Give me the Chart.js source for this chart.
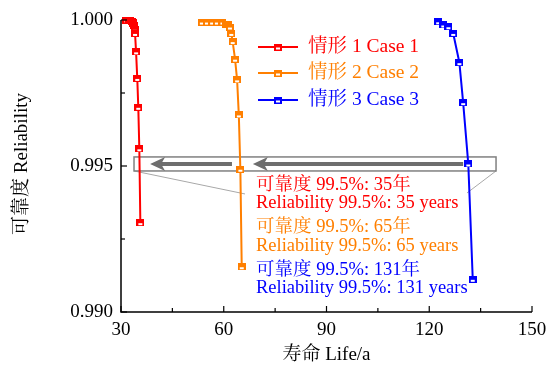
<!DOCTYPE html>
<html><head><meta charset="utf-8">
<script src="https://cdn.jsdelivr.net/npm/chart.js@4/dist/chart.umd.min.js"></script>
<style>html,body{margin:0;padding:0;background:#fff;}</style>
</head><body>
<canvas id="c" width="549" height="369"></canvas>
<script>
// ---- data ----
const seriesNames = ['情形 1 Case 1', '情形 2 Case 2', '情形 3 Case 3'];
const seriesColors = ['#FF0000', '#FF7F00', '#0000FF'];
const case1Life = [31.6, 32.2, 32.7, 33.1, 33.4, 33.6, 33.8, 34.0, 34.1, 34.4, 34.75, 35.05, 35.35, 35.65];
const case1Rel  = [1.0000, 0.99999, 0.99998, 0.99996, 0.99993, 0.99988, 0.99980, 0.99968, 0.99954, 0.99891, 0.99800, 0.99701, 0.99559, 0.99306];
const case2Life = [53.6, 55.1, 56.6, 58.0, 59.6, 60.7, 61.3, 61.8, 62.2, 62.6, 63.3, 63.9, 64.4, 64.85, 65.25];
const case2Rel  = [0.99993, 0.99993, 0.99993, 0.99993, 0.99993, 0.99986, 0.99983, 0.99976, 0.99954, 0.99926, 0.99866, 0.99795, 0.99675, 0.99489, 0.99155];
const case3Life = [122.6, 124.1, 125.6, 127.0, 128.8, 129.9, 131.4, 132.7];
const case3Rel  = [0.99994, 0.99983, 0.99977, 0.99954, 0.99854, 0.99717, 0.99507, 0.99112];
const xTicks = [30, 60, 90, 120, 150];
const xMinorTicks = [45, 75, 105, 135];
const yTicks = [0.990, 0.995, 1.000];
const yMinorTicks = [0.9925, 0.9975];
const xTitle = '寿命 Life/a';
const yTitle = '可靠度 Reliability';
const noteLines = ['可靠度 99.5%: 35年', 'Reliability 99.5%: 35 years',
                   '可靠度 99.5%: 65年', 'Reliability 99.5%: 65 years',
                   '可靠度 99.5%: 131年', 'Reliability 99.5%: 131 years'];
const noteColors = ['#FF0000', '#FF0000', '#FF7F00', '#FF7F00', '#0000FF', '#0000FF'];
// zoom box (data coords): life range, reliability range
const boxLife = [33.8, 139.5];
const boxRel = [0.99483, 0.99531];
// arrows: [tail life, tip life] at reliability level
const arrowLevel = 0.99507;
const arrows = [[129.9, 68.5], [62.4, 38.5]];

const FONT = "'Liberation Serif','Noto Serif CJK SC','Noto Sans CJK SC',serif";

function makeMarker(color) {
  const c = document.createElement('canvas');
  c.width = 8; c.height = 7;
  const g = c.getContext('2d');
  g.fillStyle = color; g.fillRect(0, 0, 8, 7);
  g.fillStyle = '#fff'; g.fillRect(2, 4, 4, 2);
  return c;
}
const markers = seriesColors.map(makeMarker);

function pts(xs, ys) { return xs.map((x, i) => ({x: x, y: ys[i]})); }
const allData = [pts(case1Life, case1Rel), pts(case2Life, case2Rel), pts(case3Life, case3Rel)];

const datasets = allData.map((d, i) => ({
  label: seriesNames[i], data: d, borderColor: seriesColors[i], backgroundColor: seriesColors[i],
  borderWidth: 2, pointStyle: markers[i], pointRadius: 4, clip: false, tension: 0
}));

const decor = {
  id: 'decor',
  beforeDatasetsDraw(chart) {
    const ctx = chart.ctx, xs = chart.scales.x, ys = chart.scales.y;
    ctx.save();
    const bx0 = xs.getPixelForValue(boxLife[0]), bx1 = xs.getPixelForValue(boxLife[1]);
    const by0 = ys.getPixelForValue(boxRel[1]), by1 = ys.getPixelForValue(boxRel[0]);
    ctx.strokeStyle = '#a8a8a8'; ctx.lineWidth = 1;
    ctx.beginPath(); ctx.moveTo(bx0, by1); ctx.lineTo(chart.chartArea.left + 124, by1 + 23); ctx.stroke();
    ctx.beginPath(); ctx.moveTo(bx1, by1); ctx.lineTo(chart.chartArea.left + 346, by1 + 22); ctx.stroke();
    ctx.strokeStyle = '#808080'; ctx.lineWidth = 1.5;
    ctx.strokeRect(bx0, by0, bx1 - bx0, by1 - by0);
    const ay = ys.getPixelForValue(arrowLevel);
    ctx.strokeStyle = '#6e6e6e'; ctx.fillStyle = '#6e6e6e';
    arrows.forEach(a => {
      const t = xs.getPixelForValue(a[0]), h = xs.getPixelForValue(a[1]);
      ctx.lineWidth = 4;
      ctx.beginPath(); ctx.moveTo(t, ay); ctx.lineTo(h + 8, ay); ctx.stroke();
      ctx.beginPath();
      ctx.moveTo(h, ay); ctx.lineTo(h + 15, ay - 7); ctx.lineTo(h + 11, ay); ctx.lineTo(h + 15, ay + 7);
      ctx.closePath(); ctx.fill();
    });
    ctx.restore();
  },
  afterDraw(chart) {
    const ctx = chart.ctx, xs = chart.scales.x, ys = chart.scales.y, ca = chart.chartArea;
    ctx.save();
    ctx.strokeStyle = '#000'; ctx.lineWidth = 1.5;
    ctx.beginPath(); ctx.moveTo(ca.left, ca.top); ctx.lineTo(ca.left, ca.bottom); ctx.lineTo(ca.right, ca.bottom); ctx.stroke();
    ctx.lineWidth = 1.2;
    xTicks.forEach(v => { const p = xs.getPixelForValue(v); ctx.beginPath(); ctx.moveTo(p, ca.bottom); ctx.lineTo(p, ca.bottom - 6); ctx.stroke(); });
    xMinorTicks.forEach(v => { const p = xs.getPixelForValue(v); ctx.beginPath(); ctx.moveTo(p, ca.bottom); ctx.lineTo(p, ca.bottom - 4); ctx.stroke(); });
    yTicks.forEach(v => { const p = ys.getPixelForValue(v); ctx.beginPath(); ctx.moveTo(ca.left, p); ctx.lineTo(ca.left + 6, p); ctx.stroke(); });
    yMinorTicks.forEach(v => { const p = ys.getPixelForValue(v); ctx.beginPath(); ctx.moveTo(ca.left, p); ctx.lineTo(ca.left + 4, p); ctx.stroke(); });
    ctx.fillStyle = '#000'; ctx.font = '19px ' + FONT; ctx.textBaseline = 'middle'; ctx.textAlign = 'center';
    ctx.fillText(xTitle, (ca.left + ca.right) / 2, 355);
    ctx.save(); ctx.translate(22, (ca.top + ca.bottom) / 2 - 2); ctx.rotate(-Math.PI / 2);
    ctx.fillText(yTitle, 0, 0); ctx.restore();
    ctx.textAlign = 'left';
    const legY = [47, 73, 100];
    chart.data.datasets.forEach((ds, i) => {
      const y = legY[i];
      ctx.strokeStyle = ds.borderColor; ctx.lineWidth = 2;
      ctx.beginPath(); ctx.moveTo(258, y); ctx.lineTo(298, y); ctx.stroke();
      ctx.drawImage(markers[i], 274, y - 3.5);
      ctx.fillStyle = ds.borderColor; ctx.font = '19.5px ' + FONT;
      ctx.fillText(ds.label, 308, y);
    });
    const noteY = [185, 203, 227, 246, 270, 288];
    ctx.font = '18.5px ' + FONT;
    noteLines.forEach((t, i) => { ctx.fillStyle = noteColors[i]; ctx.fillText(t, 256, noteY[i]); });
    ctx.restore();
  }
};

new Chart(document.getElementById('c'), {
  type: 'line',
  data: { datasets: datasets },
  options: {
    responsive: false, animation: false,
    layout: { padding: { left: 0, top: 20, right: 17, bottom: 0 } },
    plugins: { legend: { display: false }, tooltip: { enabled: false } },
    scales: {
      x: {
        type: 'linear', min: 30, max: 150,
        afterBuildTicks: s => { s.ticks = xTicks.map(v => ({value: v})); },
        afterFit: s => { s.height = 57; s.paddingLeft = 0; s.paddingRight = 0; },
        grid: { display: false, drawTicks: false }, border: { display: false },
        ticks: { color: '#000', font: { family: FONT, size: 19 }, padding: 7, maxRotation: 0 }
      },
      y: {
        type: 'linear', min: 0.990, max: 1.000,
        afterBuildTicks: s => { s.ticks = yTicks.map(v => ({value: v})); },
        afterFit: s => { s.width = 121; s.paddingTop = 0; s.paddingBottom = 0; },
        grid: { display: false, drawTicks: false }, border: { display: false },
        ticks: { color: '#000', font: { family: FONT, size: 19 }, padding: 8, callback: v => Number(v).toFixed(3) }
      }
    }
  },
  plugins: [decor]
});
</script>
</body></html>
